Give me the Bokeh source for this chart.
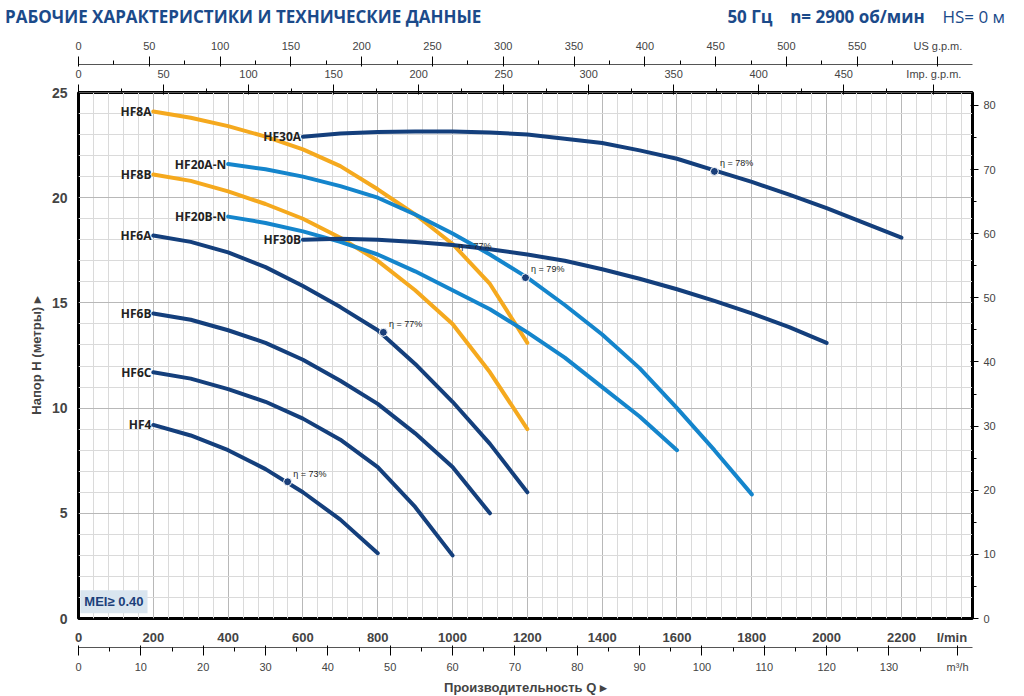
from bokeh.plotting import figure
from bokeh.models import (LinearAxis, Range1d, FixedTicker, Label, Div)
from bokeh.layouts import column
from bokeh.embed import file_html
from bokeh.resources import INLINE
from bokeh.core.properties import value

# data (Q in l/min, H in m)
names = ["HF8A", "HF8B", "HF20A-N", "HF20B-N", "HF30A", "HF30B", "HF6A", "HF6B", "HF6C", "HF4"]
kinds = ["o", "o", "l", "l", "d", "d", "d", "d", "d", "d"]
q = {
    "HF8A": [200, 300, 400, 500, 600, 700, 800, 900, 1000, 1100, 1200],
    "HF8B": [200, 300, 400, 500, 600, 700, 800, 900, 1000, 1100, 1200],
    "HF20A-N": [400, 500, 600, 700, 800, 900, 1000, 1100, 1200, 1300, 1400, 1500, 1600, 1700, 1800],
    "HF20B-N": [400, 500, 600, 700, 800, 900, 1000, 1100, 1200, 1300, 1400, 1500, 1600],
    "HF30A": [600, 700, 800, 900, 1000, 1100, 1200, 1300, 1400, 1500, 1600, 1700, 1800, 1900, 2000, 2100, 2200],
    "HF30B": [600, 700, 800, 900, 1000, 1100, 1200, 1300, 1400, 1500, 1600, 1700, 1800, 1900, 2000],
    "HF6A": [200, 300, 400, 500, 600, 700, 800, 900, 1000, 1100, 1200],
    "HF6B": [200, 300, 400, 500, 600, 700, 800, 900, 1000, 1100],
    "HF6C": [200, 300, 400, 500, 600, 700, 800, 900, 1000],
    "HF4": [200, 300, 400, 500, 600, 700, 800],
}
h = {
    "HF8A": [24.1, 23.8, 23.4, 22.9, 22.3, 21.5, 20.4, 19.2, 17.8, 15.9, 13.1],
    "HF8B": [21.1, 20.8, 20.3, 19.7, 19.0, 18.1, 17.0, 15.6, 14.0, 11.7, 9.0],
    "HF20A-N": [21.6, 21.35, 21.0, 20.55, 20.0, 19.2, 18.3, 17.3, 16.2, 14.9, 13.5, 11.9, 10.0, 8.0, 5.9],
    "HF20B-N": [19.1, 18.8, 18.4, 17.9, 17.3, 16.5, 15.6, 14.7, 13.6, 12.4, 11.0, 9.6, 8.0],
    "HF30A": [22.9, 23.05, 23.12, 23.15, 23.15, 23.1, 23.0, 22.8, 22.6, 22.25, 21.85, 21.3, 20.75, 20.15, 19.5, 18.8, 18.1],
    "HF30B": [18.0, 18.05, 18.0, 17.9, 17.75, 17.55, 17.3, 17.0, 16.6, 16.15, 15.65, 15.1, 14.5, 13.85, 13.1],
    "HF6A": [18.2, 17.9, 17.4, 16.7, 15.8, 14.8, 13.7, 12.1, 10.3, 8.3, 6.0],
    "HF6B": [14.5, 14.2, 13.7, 13.1, 12.3, 11.3, 10.2, 8.8, 7.2, 5.0],
    "HF6C": [11.7, 11.4, 10.9, 10.3, 9.5, 8.5, 7.2, 5.3, 3.0],
    "HF4": [9.2, 8.7, 8.0, 7.1, 6.0, 4.7, 3.1],
}
eff_q = [1700, 1195, 815, 559, 1000]
eff_h = [21.25, 16.2, 13.6, 6.5, 17.3]
eff_txt = ["η = 78%", "η = 79%", "η = 77%", "η = 73%", "η = 77%"]
eff_dot = [True, True, True, True, False]

colors = {"o": "#F5A91E", "l": "#1485CC", "d": "#143F7C"}
NAVY = "#1B3F7A"
XMAX = 2390

title = Div(text=(
    '<div style="display:flex;justify-content:space-between;width:1000px;'
    'font-family:\'Open Sans\';font-weight:bold;font-size:17px;color:#1B4A8A">'
    '<span>РАБОЧИЕ ХАРАКТЕРИСТИКИ И ТЕХНИЧЕСКИЕ ДАННЫЕ</span>'
    '<span>50 Гц &nbsp;&nbsp; n= 2900 об/мин &nbsp;&nbsp; <span style="font-weight:normal">HS= 0 м</span></span></div>'),
    width=1000, height=26)

p = figure(frame_width=894, frame_height=526, x_range=Range1d(0, XMAX), y_range=Range1d(0, 25),
           output_backend="svg", toolbar_location=None, min_border_left=78, min_border_right=34)
p.outline_line_color = "black"
p.outline_line_width = 3

p.xaxis.ticker = FixedTicker(ticks=list(range(0, 2201, 200)) + [2335])
p.xaxis.major_label_overrides = {2335: "l/min"}
p.xaxis.major_label_text_font_style = "bold"
p.xaxis.major_label_text_font_size = "13px"
p.xaxis.major_tick_line_color = None
p.xaxis.minor_tick_line_color = None
p.xaxis.axis_line_color = None
p.yaxis.ticker = FixedTicker(ticks=[0, 5, 10, 15, 20, 25])
p.yaxis.major_label_text_font_style = "bold"
p.yaxis.major_label_text_font_size = "14px"
p.yaxis.axis_label = "Напор H (метры) ▸"
p.yaxis.axis_label_text_font_style = "bold"
p.yaxis.axis_label_text_font_size = "13px"
p.yaxis.major_tick_line_color = None
p.yaxis.minor_tick_line_color = None
p.yaxis.axis_line_color = None

p.xgrid.ticker = FixedTicker(ticks=list(range(0, 2400, 200)),
                             minor_ticks=[v for v in range(40, 2400, 40) if v % 200])
p.xgrid.grid_line_color = "#B8B8B8"
p.xgrid.minor_grid_line_color = "#DADADA"
p.ygrid.ticker = FixedTicker(ticks=[0, 5, 10, 15, 20, 25], minor_ticks=[i for i in range(26) if i % 5])
p.ygrid.grid_line_color = "#B8B8B8"
p.ygrid.minor_grid_line_color = "#DADADA"

p.extra_x_ranges = {"imp": Range1d(0, XMAX / 4.546), "us": Range1d(0, XMAX / 3.785), "m3": Range1d(0, XMAX / 16.667)}
p.extra_y_ranges = {"ft": Range1d(0, 25 * 3.2808)}

ax_imp = LinearAxis(x_range_name="imp", ticker=FixedTicker(ticks=list(range(0, 451, 50)) + [503], minor_ticks=list(range(25, 500, 50))))
ax_imp.major_label_overrides = {503: "Imp. g.p.m."}
ax_us = LinearAxis(x_range_name="us", ticker=FixedTicker(ticks=list(range(0, 551, 50)) + [607], minor_ticks=list(range(25, 600, 50))))
ax_us.major_label_overrides = {607: "US g.p.m."}
ax_m3 = LinearAxis(x_range_name="m3", ticker=FixedTicker(ticks=list(range(0, 131, 10)) + [141], minor_ticks=list(range(5, 140, 10))),
                   axis_label="Производительность Q ▸")
ax_m3.major_label_overrides = {141: "m³/h"}
ax_m3.axis_label_text_font_style = "bold"
ax_m3.axis_label_text_font_size = "13px"
ax_m3.axis_label_standoff = 4
for a in (ax_imp, ax_us, ax_m3):
    a.major_label_text_font_size = "11px"
    a.major_tick_out = 8
    a.minor_tick_out = 4
    a.axis_line_color = "#555555"
p.add_layout(ax_imp, "above")
p.add_layout(ax_us, "above")
p.add_layout(ax_m3, "below")
ax_ft = LinearAxis(y_range_name="ft", ticker=FixedTicker(ticks=list(range(0, 81, 10)), minor_ticks=list(range(5, 80, 10))))
ax_ft.major_label_text_font_size = "11px"
p.add_layout(ax_ft, "right")

for n, k in zip(names, kinds):
    p.line(q[n], h[n], line_color=colors[k], line_width=4, line_cap="round", line_join="round")
    p.text([q[n][0] - 5], [h[n][0]], text=[n], text_align="right", text_baseline="middle",
           text_font=value("Open Sans"), text_font_style="bold", text_font_size="12px", text_color="#222222")

for x, y, t, d in zip(eff_q, eff_h, eff_txt, eff_dot):
    if d:
        p.scatter([x], [y], size=8, fill_color=NAVY, line_color="white")
    p.text([x + 15], [y + 0.15], text=[t], text_font_size="9px", text_baseline="bottom", text_color="#222222")

p.add_layout(Label(x=5, y=0.25, text="MEI≥ 0.40", text_font_size="13px", text_font_style="bold",
                   text_color=NAVY, background_fill_color="#D9E5EF", padding=4))
p.add_layout(Label(x=XMAX + 5, y=25.4, text="feet", text_font_size="10px"))

out = column(title, p)
open("out.html", "w").write(file_html(out, INLINE))
